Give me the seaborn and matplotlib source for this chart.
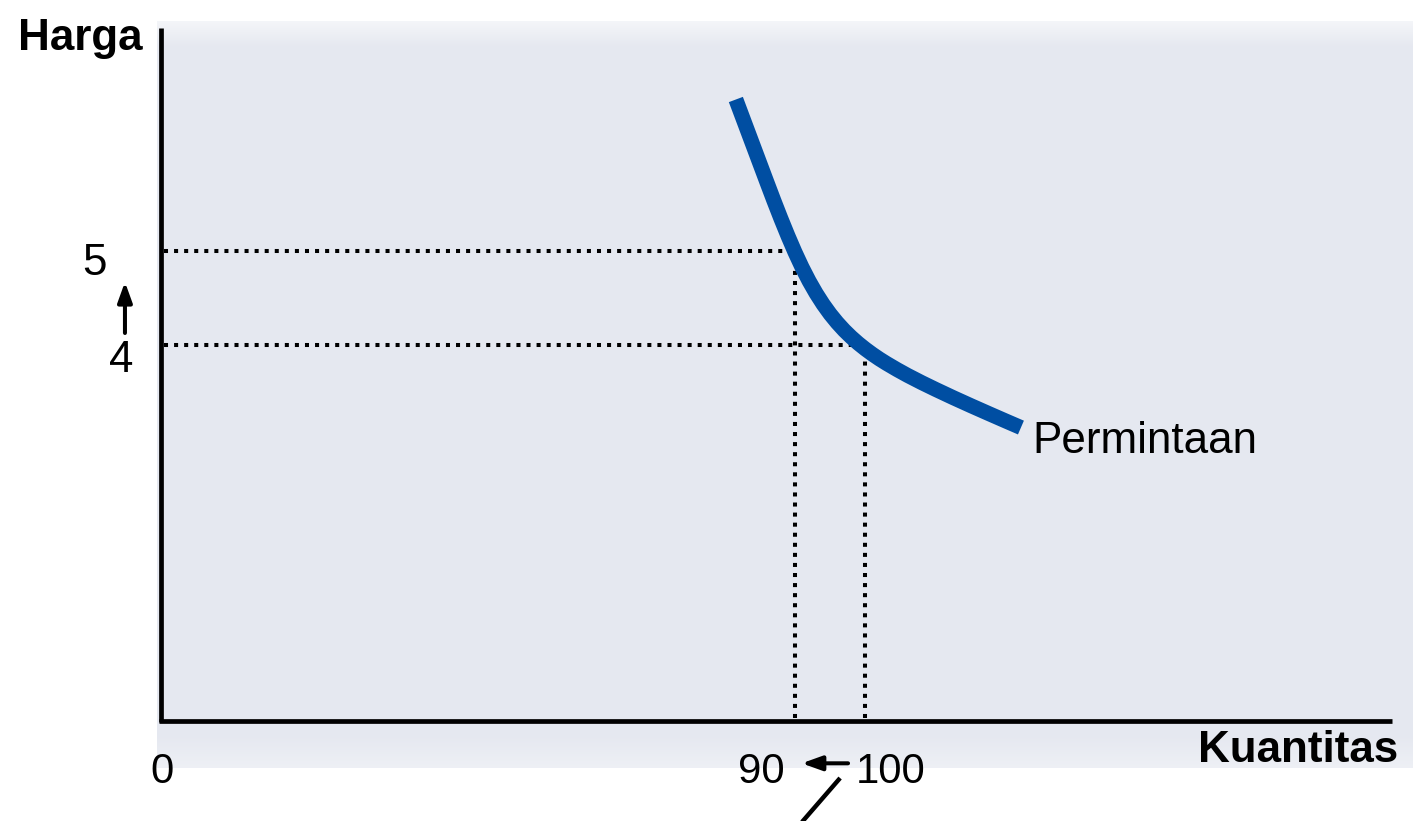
import numpy as np
import pandas as pd
import matplotlib
matplotlib.use("Agg")
import matplotlib.pyplot as plt
import seaborn as sns

# ---- data ----
quantity = [81.6, 83.0, 84.5, 86.0, 87.0, 88.0, 89.0, 90.0, 91.0, 92.0, 93.0, 94.0,
            95.0, 96.0, 97.0, 98.0, 99.0, 100.0, 101.0, 102.0, 103.0, 104.5, 106.0,
            108.0, 110.0, 112.5, 115.0, 117.5, 120.0, 122.1]
price = [6.620, 6.340, 6.040, 5.740, 5.542, 5.350, 5.166, 4.992, 4.831, 4.685,
         4.554, 4.437, 4.333, 4.241, 4.159, 4.086, 4.020, 3.960, 3.905, 3.854,
         3.807, 3.741, 3.679, 3.602, 3.529, 3.441, 3.356, 3.273, 3.191, 3.123]
ref_quantity = [90, 100]
ref_price = [5, 4]
price_labels = ["5", "4"]
quantity_labels = ["0", "90", "100"]
curve_label = "Permintaan"
x_title = "Kuantitas"
y_title = "Harga"

sns.set_theme(style="dark")
plt.rcParams["font.family"] = ["Liberation Sans", "DejaVu Sans"]
plt.rcParams["text.color"] = "black"

W, H = 1413, 821
fig = plt.figure(figsize=(W / 100, H / 100), dpi=100)
fig.patch.set_facecolor("white")
ax = fig.add_axes([156.7 / W, 53 / H, (W - 156.7) / W, (768 - 20.7) / H])
ax.set_facecolor("#E5E8F0")

ax.set_xticks([])
ax.set_yticks([])
ax.grid(False)
for s in ax.spines.values():
    s.set_visible(False)

# soft lighter shading at the panel's top and bottom edges
ph = 748
rows = np.arange(ph)
alpha = np.clip(1 - rows / 27.0, 0, 1) * 0.6
alpha = np.maximum(alpha, np.clip((rows - (ph - 34)) / 34.0, 0, 1) * 0.35)
overlay = np.ones((ph, 1, 4))
overlay[:, 0, 3] = alpha
ax.imshow(overlay, extent=(0, 1, 0, 1), transform=ax.transAxes, aspect="auto",
          zorder=0.5, interpolation="bilinear")
ax.set_xlim(-0.68, 177.8)
ax.set_ylim(-0.506, 7.46)

# axis lines
ax.plot([0, 0], [-0.02, 7.38], color="black", lw=3.4, solid_capstyle="butt", zorder=3)
ax.plot([-0.3, 174.8], [0, 0], color="black", lw=3.4, solid_capstyle="butt", zorder=3)

# dotted reference lines
dot = dict(color="black", lw=2.9, linestyle=(0, (1, 1.5)), dash_capstyle="butt", zorder=2)
for q, p in zip(ref_quantity, ref_price):
    ax.plot([0.3, q], [p, p], **dot)
    ax.plot([q, q], [0.03, p], **dot)

# demand curve
df = pd.DataFrame({"Kuantitas": quantity, "Harga": price})
sns.lineplot(data=df, x="Kuantitas", y="Harga", sort=False, estimator=None,
             color="#004EA2", lw=10.8, ax=ax, zorder=4,
             solid_capstyle="butt", solid_joinstyle="round")
ax.set_xlabel("")
ax.set_ylabel("")

fs = 31.7
ax.text(123.76, 2.852, curve_label, fontsize=fs, ha="left", va="baseline", color="black")
ax.text(-2.63, 7.148, y_title, fontsize=fs, fontweight="bold", ha="right", va="baseline", color="black")
ax.text(175.7, -0.439, x_title, fontsize=fs, fontweight="bold", ha="right", va="baseline", color="black")

arrow = dict(arrowstyle="-|>,head_length=1.0,head_width=0.36",
             color="black", lw=2.9, shrinkA=0, shrinkB=0)

# price labels and arrow
ax.text(-9.45, 4.749, price_labels[0], fontsize=fs, ha="center", va="baseline", color="black")
ax.text(-5.75, 3.715, price_labels[1], fontsize=fs, ha="center", va="baseline", color="black")
ax.annotate("", xy=(-5.19, 4.675), xytext=(-5.19, 4.131), arrowprops=arrow,
            annotation_clip=False)

# quantity labels and arrow
ax.text(0.07, -0.670, quantity_labels[0], fontsize=fs * 0.95, ha="center", va="baseline", color="black")
ax.text(85.15, -0.670, quantity_labels[1], fontsize=fs * 0.95, ha="center", va="baseline", color="black")
ax.text(103.58, -0.670, quantity_labels[2], fontsize=fs * 0.95, ha="center", va="baseline", color="black")
ax.annotate("", xy=(90.96, -0.456), xytext=(97.54, -0.456), arrowprops=arrow,
            annotation_clip=False)
ax.plot([96.41, 90.01], [-0.613, -1.167], color="black", lw=3.2, clip_on=False,
        solid_capstyle="butt", zorder=5)

fig.savefig("out.png", dpi=100, facecolor="white")
